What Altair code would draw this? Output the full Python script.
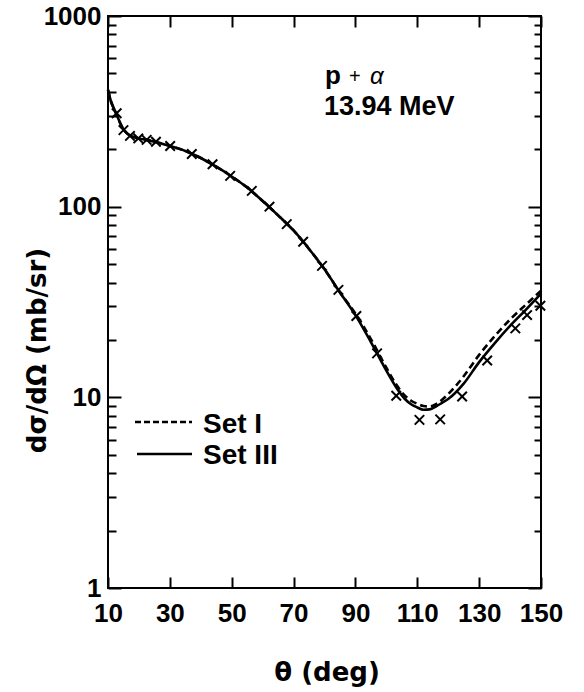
import altair as alt
import pandas as pd

# ---- data ----
theta_curve = [10, 11, 12, 13, 14, 15, 16, 17, 18, 20, 22.5, 25, 27.5, 30, 35, 40, 45, 50,
               55, 60, 65, 70, 75, 80, 85, 90, 95, 100, 103, 106, 108, 110, 112, 114, 116,
               118, 120, 125, 130, 135, 140, 145, 150]
set3_vals = [410, 355, 325, 298, 273, 255, 244, 237, 233, 228, 224, 219, 214, 208, 196, 180,
             162, 144, 126, 107, 90, 75, 60, 47, 35.5, 27.0, 19.5, 13.8, 11.4, 9.8, 9.2, 8.85,
             8.6, 8.65, 8.95, 9.35, 9.8, 11.8, 15.3, 19.2, 23.7, 28.7, 35.0]
set1_vals = [410, 355, 325, 298, 273, 255, 244, 237, 233, 228, 224, 219, 214, 208, 196, 180,
             162, 144, 126, 107, 90, 75, 60, 47, 35.5, 27.5, 20.2, 14.3, 11.8, 10.2, 9.6, 9.25,
             9.0, 8.95, 9.2, 9.7, 10.4, 12.9, 16.7, 20.9, 25.6, 30.5, 36.3]

theta_exp = [12.8, 15.0, 17.1, 19.8, 22.5, 25.5, 30.1, 37.1, 43.8, 49.5, 56.5, 62.2, 67.8,
             73.1, 79.2, 84.5, 90.3, 97.0, 103.2, 110.7, 117.4, 124.5, 132.6, 141.7, 145.5, 149.8]
xs_exp = [309, 252, 235, 228, 224, 219, 208, 189, 167, 145, 121, 100, 81, 65.5, 48.9, 36.6,
          26.7, 17.0, 10.2, 7.62, 7.66, 10.1, 15.6, 23.0, 27.0, 30.2]

series_names = ["Set I", "Set III"]
x_ticks = [10, 30, 50, 70, 90, 110, 130, 150]
y_major = [1, 10, 100, 1000]
y_minor = [k * 10 ** e for e in range(3) for k in range(2, 10)]

set1_df = pd.DataFrame({"theta": theta_curve, "xs": set1_vals})
set3_df = pd.DataFrame({"theta": theta_curve, "xs": set3_vals})
exp_df = pd.DataFrame({"theta": theta_exp, "xs": xs_exp})
one = pd.DataFrame({"k": [0]})

W, H = 433, 572
FONT = "Liberation Sans"

xsc = alt.Scale(domain=[10, 150], nice=False, zero=False)
ysc = alt.Scale(type="log", domain=[1, 1000], nice=False)

common_ax = dict(domain=False, grid=False, tickColor="black", tickWidth=2,
                 labelFont=FONT, labelFontWeight="bold", labelColor="black",
                 labelFontSize=26, titleFontWeight="bold",
                 titleColor="black", labelFlush=False, labelOverlap=False)

x_bottom = alt.Axis(orient="bottom", values=x_ticks, tickSize=11, offset=-11,
                    labelPadding=12, title="θ (deg)", titleFontSize=26, titleFont="DejaVu Sans",
                    titleX=W / 2 + 2, titleY=95, titleBaseline="middle",
                    titleAlign="center", format="d", **common_ax)
x_top = alt.Axis(orient="top", values=x_ticks, tickSize=11, offset=-11,
                 labels=False, title=None, **common_ax)

y_left_major = alt.Axis(orient="left", values=y_major, tickSize=13, offset=-13,
                        labelPadding=7, format="d", labelBaseline="middle",
                        title="dσ/dΩ (mb/sr)", titleFontSize=26, titleFont="DejaVu Sans",
                        titleAngle=-90,
                        titleX=-84, titleY=334, titleAlign="center",
                        titleBaseline="middle", **common_ax)
y_left_minor = alt.Axis(orient="left", values=y_minor, tickSize=8, offset=-8,
                        labels=False, title=None, **common_ax)
y_right_major = alt.Axis(orient="right", values=y_major, tickSize=13, offset=-13,
                         labels=False, title=None, **common_ax)
y_right_minor = alt.Axis(orient="right", values=y_minor, tickSize=7, offset=-7,
                         labels=False, title=None, **common_ax)

solid = alt.Chart(set3_df).mark_line(color="black", strokeWidth=2.6, interpolate="monotone").encode(
    x=alt.X("theta:Q", scale=xsc, axis=x_bottom),
    y=alt.Y("xs:Q", scale=ysc, axis=y_left_major),
)
dashed = alt.Chart(set1_df).mark_line(color="black", strokeWidth=2.6, strokeDash=[7, 4],
                                      interpolate="monotone").encode(
    x=alt.X("theta:Q", scale=xsc, axis=x_top),
    y=alt.Y("xs:Q", scale=ysc, axis=y_left_minor),
)
cross_path = "M-1,-1L1,1M-1,1L1,-1"
points = alt.Chart(exp_df).mark_point(shape=cross_path, filled=False, color="black",
                                      strokeWidth=2, size=90, opacity=1).encode(
    x=alt.X("theta:Q", scale=xsc, axis=None),
    y=alt.Y("xs:Q", scale=ysc, axis=y_right_major),
)
helper = alt.Chart(exp_df).mark_point(opacity=0, size=1).encode(
    x=alt.X("theta:Q", scale=xsc, axis=None),
    y=alt.Y("xs:Q", scale=ysc, axis=y_right_minor),
)

txt = dict(font=FONT, fontWeight="bold", color="black", align="left", baseline="alphabetic")
label_p = alt.Chart(one).mark_text(text="p", fontSize=26, **txt).encode(
    x=alt.value(217), y=alt.value(68))
label_plus = alt.Chart(one).mark_text(text="+", fontSize=20, font=FONT, color="black",
                                      align="left", baseline="alphabetic").encode(
    x=alt.value(241), y=alt.value(67))
label_alpha = alt.Chart(one).mark_text(text="α", fontSize=24, font=FONT, fontStyle="italic",
                                       color="black", align="left",
                                       baseline="alphabetic").encode(
    x=alt.value(262), y=alt.value(68))
label_e = alt.Chart(one).mark_text(text="13.94 MeV", fontSize=27, **txt).encode(
    x=alt.value(216), y=alt.value(99))

leg_dash = alt.Chart(one).mark_rule(color="black", strokeWidth=2.6, strokeDash=[6, 3]).encode(
    x=alt.value(27), x2=alt.value(84), y=alt.value(406))
leg_solid = alt.Chart(one).mark_rule(color="black", strokeWidth=2.6).encode(
    x=alt.value(29), x2=alt.value(84), y=alt.value(438))
leg_t1 = alt.Chart(one).mark_text(text=series_names[0], fontSize=28, **txt).encode(
    x=alt.value(95), y=alt.value(417))
leg_t3 = alt.Chart(one).mark_text(text=series_names[1], fontSize=28, **txt).encode(
    x=alt.value(95), y=alt.value(448))

chart = alt.layer(
    solid, dashed, points, helper,
    label_p, label_plus, label_alpha, label_e,
    leg_dash, leg_solid, leg_t1, leg_t3,
).resolve_scale(x="shared", y="shared").resolve_axis(
    x="independent", y="independent"
).properties(
    width=W, height=H,
    autosize=alt.AutoSizeParams(type="none"),
    padding={"left": 108, "top": 16, "right": 43, "bottom": 104},
    background="white",
).configure_view(stroke="black", strokeWidth=2)

chart.save("out.html", embed_options={"renderer": "svg", "actions": False})
